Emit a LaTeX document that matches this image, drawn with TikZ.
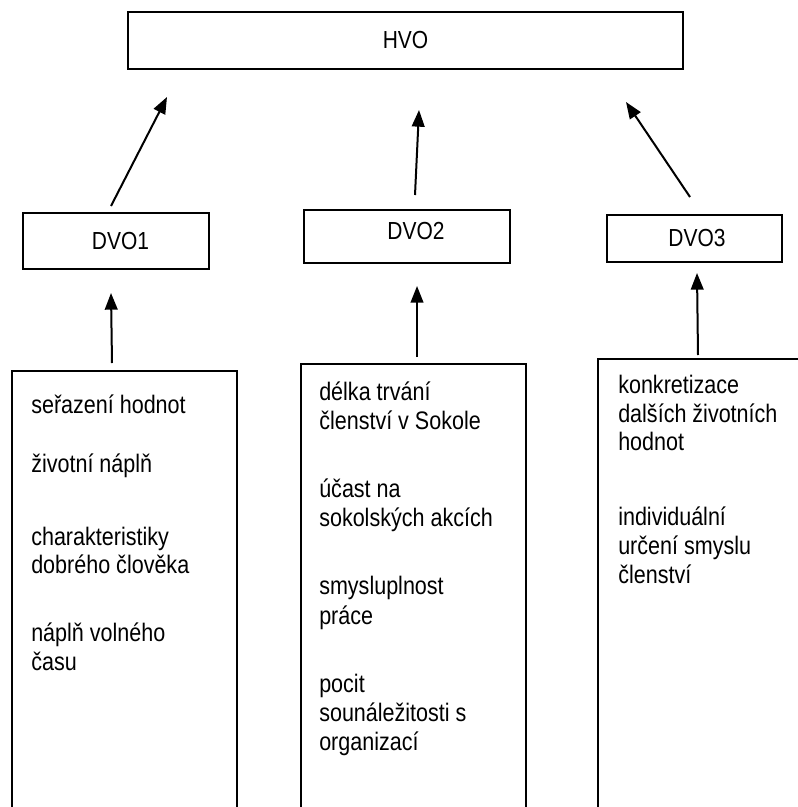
\documentclass[tikz,border=0pt]{standalone}
\usepackage{fontspec}
\setmainfont{Liberation Sans}[FakeStretch=0.85]
\usetikzlibrary{arrows.meta}
\begin{document}
\begin{tikzpicture}[x=0.75pt,y=-0.75pt,
  topbox/.style={draw, line width=1.5pt, inner sep=0pt, font=\fontsize{18.5}{22}\selectfont},
  listbox/.style={draw, line width=1.3pt, inner sep=0pt, anchor=north west, minimum height=400pt},
  txt/.style={anchor=base west, inner sep=0pt, font=\fontsize{19}{22}\selectfont},
  every label/.style={inner sep=0pt, font=\fontsize{18.5}{22}\selectfont},
  arr/.style={line width=1.5pt, -{Triangle[length=12.5pt,width=9.5pt]}}]
\useasboundingbox (0,0) rectangle (798,807);
\clip (0,0) rectangle (798,807);
\fill[white] (0,0) rectangle (798,807);

% top level
\node[topbox, minimum width=416.25pt, minimum height=42.75pt] (hvo) at (405.5,40.5) {HVO};

% second level
\node[topbox, minimum width=139.5pt, minimum height=42pt,
      label={[xshift=3.4pt]center:DVO1}] (dvo1) at (116,241) {};
\node[topbox, minimum width=154.5pt, minimum height=39.75pt,
      label={[xshift=6.75pt,yshift=4pt]center:DVO2}] (dvo2) at (407,236.5) {};
\node[topbox, minimum width=131.25pt, minimum height=35.25pt,
      label={[xshift=1.9pt]center:DVO3}] (dvo3) at (694.5,238.5) {};

% list boxes (open at the bottom, running off the picture)
\node[listbox, minimum width=168.75pt] (list1) at (11,370) {};
\node[listbox, minimum width=168.75pt] (list2) at (300,363) {};
\node[listbox, minimum width=187.5pt] (list3) at (597,358) {};

% arrow end points
\coordinate (a1s) at (111,206);  \coordinate (a1e) at (167,97);
\coordinate (a2s) at (415,195);  \coordinate (a2e) at (419,110);
\coordinate (a3s) at (690,197);  \coordinate (a3e) at (626,102);
\coordinate (a4s) at (112,363);  \coordinate (a4e) at (111,293);
\coordinate (a5s) at (417,357);  \coordinate (a5e) at (417,286);
\coordinate (a6s) at (698,355);  \coordinate (a6e) at (697,273);

\draw[arr] (a1s) -- (a1e);
\draw[arr] (a2s) -- (a2e);
\draw[arr] (a3s) -- (a3e);
\draw[arr] (a4s) -- (a4e);
\draw[arr] (a5s) -- (a5e);
\draw[arr] (a6s) -- (a6e);

% texts of list 1
\node[txt] (t1a) at (31,413) {seřazení hodnot};
\node[txt] (t1b) at (31,472) {životní náplň};
\node[txt] (t1c) at (31,545) {charakteristiky};
\node[txt] (t1d) at (31,573) {dobrého člověka};
\node[txt] (t1e) at (31,641) {náplň volného};
\node[txt] (t1f) at (31,670) {času};

% texts of list 2
\node[txt] (t2a) at (319,400) {délka trvání};
\node[txt] (t2b) at (319,429) {členství v Sokole};
\node[txt] (t2c) at (319,497) {účast na};
\node[txt] (t2d) at (319,526) {sokolských akcích};
\node[txt] (t2e) at (319,594) {smysluplnost};
\node[txt] (t2f) at (319,624) {práce};
\node[txt] (t2g) at (319,692) {pocit};
\node[txt] (t2h) at (319,721) {sounáležitosti s};
\node[txt] (t2i) at (319,750) {organizací};

% texts of list 3
\node[txt] (t3a) at (618,393) {konkretizace};
\node[txt] (t3b) at (618,422) {dalších životních};
\node[txt] (t3c) at (618,450) {hodnot};
\node[txt] (t3d) at (618,525) {individuální};
\node[txt] (t3e) at (618,554) {určení smyslu};
\node[txt] (t3f) at (618,583) {členství};
\end{tikzpicture}
\end{document}
